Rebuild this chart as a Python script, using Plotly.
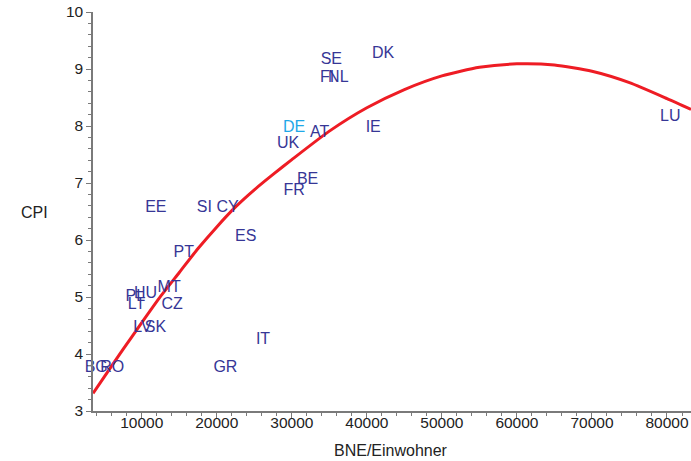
import plotly.graph_objects as go

# Country labels and values
countries = ["DK", "SE", "FI", "NL", "DE", "AT", "IE", "UK", "BE", "FR", "LU",
             "EE", "SI", "CY", "ES", "PT", "MT", "HU", "PL", "LT", "CZ",
             "LV", "SK", "IT", "GR", "BG", "RO"]
gni = [42150, 35260, 34700, 36200, 30300, 33700, 40850, 29500, 32100, 30300, 80440,
       11870, 18350, 21450, 23850, 15600, 13650, 10500, 9150, 9300, 14050,
       10100, 11830, 26160, 21150, 3930, 6050]
cpi = [9.27, 9.15, 8.85, 8.85, 7.96, 7.87, 7.96, 7.68, 7.06, 6.86, 8.15,
       6.56, 6.56, 6.56, 6.06, 5.77, 5.16, 5.06, 5.00, 4.86, 4.86,
       4.46, 4.46, 4.25, 3.76, 3.76, 3.76]

# Fitted curve, points
curve_x = [3500, 5000, 7500, 10000, 12500, 15000, 17500, 20000, 22500, 25000, 27500,
           30000, 35000, 40000, 45000, 50000, 55000, 60000, 65000, 70000, 75000,
           80000, 83200]
curve_y = [3.31, 3.60, 4.08, 4.55, 5.01, 5.43, 5.85, 6.23, 6.58, 6.88, 7.15,
           7.41, 7.91, 8.32, 8.64, 8.88, 9.03, 9.09, 9.07, 8.96, 8.76,
           8.48, 8.29]

x_ticks = [10000, 20000, 30000, 40000, 50000, 60000, 70000, 80000]
y_ticks = [3, 4, 5, 6, 7, 8, 9, 10]

label_color = "#363696"
highlight = {"DE": "#1fa8e8"}
colors = [highlight.get(c, label_color) for c in countries]
FONT = "Liberation Sans, Arial, sans-serif"

fig = go.Figure()
fig.add_trace(go.Scatter(
    x=curve_x, y=curve_y, mode="lines",
    line=dict(color="#ee1c24", width=3, shape="spline", smoothing=0.6),
    hoverinfo="skip", showlegend=False,
))
fig.add_trace(go.Scatter(
    x=gni, y=cpi, mode="text", text=countries,
    textposition="middle center",
    textfont=dict(family=FONT, size=16, color=colors),
    showlegend=False, cliponaxis=False,
))

axis_common = dict(
    showgrid=False, zeroline=False, showline=True,
    linecolor="#7a7a7a", linewidth=1.5,
    ticks="outside", ticklen=5, tickwidth=1.2, tickcolor="#7a7a7a",
    tickfont=dict(family=FONT, size=15.5, color="#222222"),
)

fig.update_xaxes(
    range=[3500, 83200], tickvals=x_ticks, ticktext=[str(v) for v in x_ticks],
    ticklabelstandoff=-8,
    minor=dict(dtick=2000, tick0=0, ticks="outside", ticklen=3, tickwidth=1, tickcolor="#7a7a7a"),
    **axis_common,
)
fig.update_yaxes(
    range=[3, 10], tickvals=y_ticks, ticktext=[str(v) for v in y_ticks],
    minor=dict(dtick=0.2, tick0=3, ticks="outside", ticklen=3, tickwidth=1, tickcolor="#7a7a7a"),
    **axis_common,
)

fig.add_annotation(text="CPI", xref="paper", yref="paper", x=-0.0986, y=0.497,
                   xanchor="center", yanchor="middle", showarrow=False,
                   font=dict(family=FONT, size=16, color="#222222"))
fig.add_annotation(text="BNE/Einwohner", xref="paper", yref="paper", x=0.4987, y=-0.1002,
                   xanchor="center", yanchor="middle", showarrow=False,
                   font=dict(family=FONT, size=16, color="#222222"))

fig.update_layout(
    width=691, height=461,
    margin=dict(l=92.5, r=0, t=12, b=50),
    paper_bgcolor="white", plot_bgcolor="white",
    showlegend=False,
)

fig.write_html("out.html", config={"displayModeBar": False},
               post_script="document.body.style.margin='0';document.body.style.overflow='hidden';")
